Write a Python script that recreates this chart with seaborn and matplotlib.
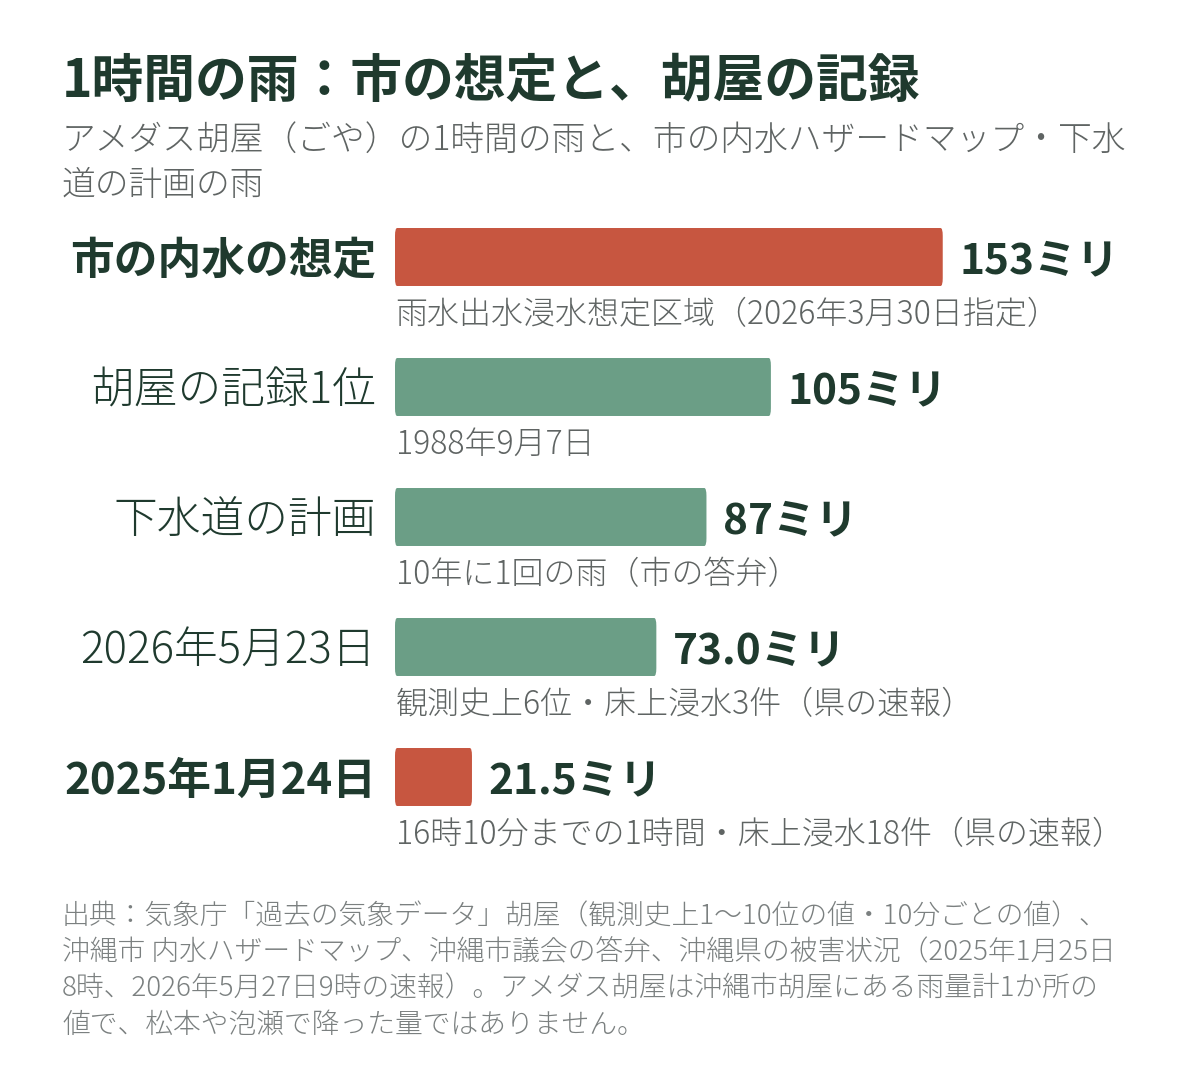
import matplotlib
matplotlib.use("Agg")
import matplotlib.pyplot as plt
from matplotlib.patches import FancyBboxPatch
import seaborn as sns
import pandas as pd

# data
labels = ["市の内水の想定", "胡屋の記録1位", "下水道の計画", "2026年5月23日", "2025年1月24日"]
values = [153, 105, 87, 73.0, 21.5]
value_text = ["153ミリ", "105ミリ", "87ミリ", "73.0ミリ", "21.5ミリ"]
notes = [
    "雨水出水浸水想定区域（2026年3月30日指定）",
    "1988年9月7日",
    "10年に1回の雨（市の答弁）",
    "観測史上6位・床上浸水3件（県の速報）",
    "16時10分までの1時間・床上浸水18件（県の速報）",
]
highlight = [True, False, False, False, True]

title = "1時間の雨：市の想定と、胡屋の記録"
subtitle = "アメダス胡屋（ごや）の1時間の雨と、市の内水ハザードマップ・下水\n道の計画の雨"
source = ("出典：気象庁「過去の気象データ」胡屋（観測史上1〜10位の値・10分ごとの値）、\n"
          "沖縄市 内水ハザードマップ、沖縄市議会の答弁、沖縄県の被害状況（2025年1月25日\n"
          "8時、2026年5月27日9時の速報）。アメダス胡屋は沖縄市胡屋にある雨量計1か所の\n"
          "値で、松本や泡瀬で降った量ではありません。")

RED = "#c75640"
GREEN = "#6b9e86"
DARK = "#1f3a2e"
GRAY = "#5f6463"
LIGHTGRAY = "#7b8080"

sns.set_theme(style="white")
plt.rcParams["font.family"] = ["Noto Sans CJK JP", "DejaVu Sans"]

df = pd.DataFrame({"label": labels, "value": values,
                   "kind": ["hl" if h else "base" for h in highlight]})

fig = plt.figure(figsize=(12, 10.72), dpi=100)
W, H = 1200, 1072

# bar area: left edge 395px, row centers 257..777px
ax = fig.add_axes([395 / W, 1 - 842 / H, 716 / W, 650 / H])
sns.barplot(data=df, x="value", y="label", hue="kind", orient="h",
            palette={"hl": RED, "base": GREEN}, width=0.446, saturation=1,
            dodge=False, legend=False, ax=ax)
ax.set_xlim(0, 200)
ax.set_ylim(4.5, -0.5)
ax.axis("off")

# rounded bars
for p in list(ax.patches):
    x0, y0 = p.get_x(), p.get_y()
    w, h = p.get_width(), p.get_height()
    if w <= 0:
        continue
    fc = p.get_facecolor()
    p.remove()
    rb = FancyBboxPatch((x0, y0), w, h,
                        boxstyle="round,pad=0,rounding_size=0.6",
                        mutation_aspect=0.1,
                        facecolor=fc, edgecolor="none")
    ax.add_patch(rb)

for i, (lab, v, vt, note, hl) in enumerate(zip(labels, values, value_text, notes, highlight)):
    ax.text(-5.3, i + 0.03, lab, ha="right", va="center", fontsize=31.5,
            color=DARK, fontweight="bold" if hl else "light")
    ax.text(v + 4.6, i + 0.03, vt, ha="left", va="center", fontsize=30.5,
            color=DARK, fontweight="bold")
    ax.text(0.2, i + 0.445, note, ha="left", va="center", fontsize=23,
            color=GRAY, fontweight="light")

fig.text(62 / W, 1 - 81 / H, title, ha="left", va="center",
         fontsize=37.3, fontweight="bold", color=DARK)
fig.text(62 / W, 1 - 122 / H, subtitle, ha="left", va="top",
         fontsize=24.3, fontweight="light", color=GRAY, linespacing=1.31)
fig.text(62 / W, 1 - 902 / H, source, ha="left", va="top",
         fontsize=20, fontweight="light", color=LIGHTGRAY, linespacing=1.38)

fig.savefig("out.png", dpi=100, facecolor="white")
